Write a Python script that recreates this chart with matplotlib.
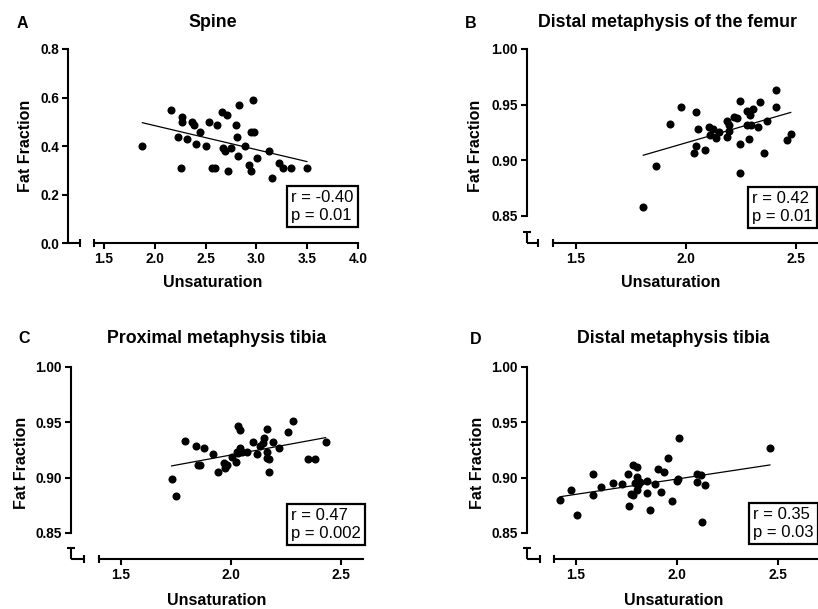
import numpy as np
import matplotlib.pyplot as plt
from matplotlib.transforms import blended_transform_factory

plt.rcParams['font.family'] = ['Liberation Sans', 'DejaVu Sans']

W, H = 818, 609  # figure size in pixels

# A - Spine
spine_x = [1.879, 2.157, 2.268, 2.268, 2.255, 2.232, 2.320, 2.366, 2.382, 2.441,
           2.402, 2.500, 2.539, 2.611, 2.565, 2.598, 2.663, 2.709, 2.826, 2.971,
           2.800, 2.807, 2.670, 2.696, 2.752, 2.817, 2.719, 2.889, 2.948, 2.980,
           2.925, 2.948, 3.003, 3.121, 3.150, 3.225, 3.265, 3.336, 3.497]
spine_y = [0.400, 0.548, 0.518, 0.498, 0.309, 0.438, 0.429, 0.500, 0.487, 0.459,
           0.407, 0.399, 0.500, 0.487, 0.309, 0.309, 0.541, 0.528, 0.569, 0.590,
           0.487, 0.438, 0.390, 0.379, 0.390, 0.359, 0.297, 0.400, 0.459, 0.459,
           0.322, 0.297, 0.349, 0.379, 0.267, 0.329, 0.311, 0.309, 0.309]

# B - Distal metaphysis of the femur
femur_x = [1.806, 1.865, 1.926, 1.976, 2.045, 2.056, 2.045, 2.036, 2.086, 2.106,
           2.124, 2.109, 2.136, 2.152, 2.185, 2.195, 2.185, 2.197, 2.218, 2.230,
           2.245, 2.245, 2.247, 2.276, 2.291, 2.306, 2.276, 2.294, 2.288, 2.326,
           2.336, 2.356, 2.367, 2.408, 2.408, 2.458, 2.476]
femur_y = [0.858, 0.895, 0.933, 0.948, 0.943, 0.928, 0.913, 0.907, 0.909, 0.930,
           0.928, 0.923, 0.920, 0.925, 0.935, 0.932, 0.921, 0.926, 0.939, 0.938,
           0.953, 0.915, 0.889, 0.944, 0.941, 0.946, 0.932, 0.932, 0.919, 0.930,
           0.952, 0.907, 0.935, 0.963, 0.948, 0.918, 0.924]

# C - Proximal metaphysis tibia
prox_x = [1.730, 1.750, 1.791, 1.841, 1.879, 1.849, 1.859, 1.920, 1.940, 1.970,
          1.980, 1.973, 2.003, 2.023, 2.030, 2.041, 2.041, 2.033, 2.049, 2.026,
          2.074, 2.101, 2.120, 2.132, 2.147, 2.162, 2.150, 2.162, 2.165, 2.174,
          2.171, 2.192, 2.220, 2.261, 2.280, 2.351, 2.382, 2.430]
prox_y = [0.899, 0.883, 0.933, 0.929, 0.927, 0.911, 0.911, 0.921, 0.905, 0.913,
          0.911, 0.909, 0.919, 0.914, 0.947, 0.943, 0.927, 0.922, 0.923, 0.923,
          0.923, 0.932, 0.921, 0.929, 0.931, 0.944, 0.936, 0.923, 0.918, 0.917,
          0.905, 0.932, 0.927, 0.941, 0.951, 0.917, 0.917, 0.932]

# D - Distal metaphysis tibia
dist_x = [1.421, 1.474, 1.503, 1.583, 1.583, 1.624, 1.685, 1.726, 1.756, 1.764,
          1.784, 1.804, 1.771, 1.800, 1.792, 1.809, 1.817, 1.800, 1.784, 1.853,
          1.850, 1.866, 1.891, 1.908, 1.936, 1.919, 1.957, 1.977, 1.998, 2.006,
          2.010, 2.097, 2.117, 2.097, 2.139, 2.122, 2.460]
dist_y = [0.880, 0.889, 0.866, 0.903, 0.884, 0.892, 0.895, 0.894, 0.903, 0.874,
          0.911, 0.910, 0.885, 0.901, 0.895, 0.893, 0.896, 0.889, 0.884, 0.897,
          0.886, 0.871, 0.894, 0.908, 0.905, 0.887, 0.918, 0.879, 0.897, 0.899,
          0.936, 0.903, 0.902, 0.896, 0.893, 0.860, 0.927]

titles = ['Spine', 'Distal metaphysis of the femur',
          'Proximal metaphysis tibia', 'Distal metaphysis tibia']
letters = ['A', 'B', 'C', 'D']
stats = ['r = -0.40\np = 0.01', 'r = 0.42\np = 0.01',
         'r = 0.47\np = 0.002', 'r = 0.35\np = 0.03']
xticks = [[1.5, 2.0, 2.5, 3.0, 3.5, 4.0], [1.5, 2.0, 2.5], [1.5, 2.0, 2.5], [1.5, 2.0, 2.5]]
xticklabels = [['1.5', '2.0', '2.5', '3.0', '3.5', '4.0'], ['1.5', '2.0', '2.5'],
               ['1.5', '2.0', '2.5'], ['1.5', '2.0', '2.5']]
yticks_a = [0.0, 0.2, 0.4, 0.6, 0.8]
yticklabels_a = ['0.0', '0.2', '0.4', '0.6', '0.8']
yticks_b = [0.85, 0.90, 0.95, 1.00]
yticklabels_b = ['0.85', '0.90', '0.95', '1.00']

datasets = [(spine_x, spine_y), (femur_x, femur_y), (prox_x, prox_y), (dist_x, dist_y)]

# layout in pixels: left, top, bottom, xlim, ylim, x-break (stub end, segment start),
# y-break (top of lower stub or None), stats box (left, top)
panels = [
    dict(left=68, top=49, bottom=243, xlim=(1.147, 4.0), ylim=(0.0, 0.8),
         xbrk=(1.265, 1.402), ybrk=None, box=(287, 186),
         title=(213, 27), letter=(17, 28), ylab=(26, 146), xlab=(213, 287)),
    dict(left=527, top=49, bottom=243, xlim=(1.2773, 2.62), ylim=(0.8257, 1.0),
         xbrk=(1.327, 1.395), ybrk=0.836, box=(748, 187),
         title=(667, 27), letter=(465, 28), ylab=(476, 146), xlab=(671, 287)),
    dict(left=71, top=367, bottom=559, xlim=(1.2727, 2.6), ylim=(0.8265, 1.0),
         xbrk=(1.332, 1.40), ybrk=0.8365, box=(287, 504),
         title=(217, 343), letter=(18, 343), ylab=(22, 463), xlab=(217, 605)),
    dict(left=527, top=367, bottom=559, xlim=(1.2574, 2.72), ylim=(0.8265, 1.0),
         xbrk=(1.322, 1.391), ybrk=0.8365, box=(749, 503),
         title=(673, 343), letter=(470, 344), ylab=(477, 463), xlab=(674, 605)),
]
px_per_unit = [101.65, 220, 220, 202]

fig = plt.figure(figsize=(W / 100, H / 100), dpi=100)
LW = 1.5
cap = 4.0  # half-length of break caps, px

for i, p in enumerate(panels):
    width = (p['xlim'][1] - p['xlim'][0]) * px_per_unit[i]
    height = p['bottom'] - p['top']
    ax = fig.add_axes([p['left'] / W, 1 - p['bottom'] / H, width / W, height / H])
    x, y = datasets[i]
    ax.plot(x, y, 'o', color='black', markersize=5.8, markeredgewidth=0, clip_on=False)

    # linear regression line over the data range
    k, b = np.polyfit(x, y, 1)
    xs = np.array([min(x), max(x)])
    ax.plot(xs, k * xs + b, color='black', lw=0.9)

    ax.set_xlim(*p['xlim'])
    ax.set_ylim(*p['ylim'])
    ax.set_xticks(xticks[i])
    ax.set_xticklabels(xticklabels[i])
    if i == 0:
        ax.set_yticks(yticks_a)
        ax.set_yticklabels(yticklabels_a)
    else:
        ax.set_yticks(yticks_b)
        ax.set_yticklabels(yticklabels_b)
    ax.tick_params(direction='out', length=4, width=LW, labelsize=9.8, pad=2.5)
    for lab in ax.get_xticklabels() + ax.get_yticklabels():
        lab.set_fontweight('bold')

    for s in ['top', 'right']:
        ax.spines[s].set_visible(False)
    ax.spines['left'].set_linewidth(LW)
    ax.spines['bottom'].set_linewidth(LW)
    ax.spines['bottom'].set_bounds(p['xbrk'][1], p['xlim'][1])
    if p['ybrk'] is not None:
        ax.spines['left'].set_bounds(0.85, p['ylim'][1])

    x0, y0 = p['xlim'][0], p['ylim'][0]
    bx = blended_transform_factory(ax.transData, ax.transAxes)
    by = blended_transform_factory(ax.transAxes, ax.transData)
    hx = cap / height
    hy = cap / width
    kw = dict(color='black', lw=LW, clip_on=False, solid_capstyle='butt')
    # short x stub with its end cap, and the cap at the start of the main segment
    ax.plot([x0, p['xbrk'][0]], [y0, y0], **kw)
    ax.plot([p['xbrk'][0]] * 2, [-hx, hx], transform=bx, **kw)
    ax.plot([p['xbrk'][1]] * 2, [-hx, hx], transform=bx, **kw)
    if p['ybrk'] is not None:
        ax.plot([x0, x0], [y0, p['ybrk']], **kw)
        ax.plot([-hy, hy], [p['ybrk']] * 2, transform=by, **kw)

    # stats box
    bl, bt = p['box']
    ax.text((bl + 4.2 - p['left']) / width, (p['bottom'] - bt - 4.2) / height, stats[i],
            transform=ax.transAxes, ha='left', va='top', fontsize=12, linespacing=1.2,
            bbox=dict(boxstyle='square,pad=0.25', fc='white', ec='black', lw=1.6))

    fig.text(p['title'][0] / W, 1 - p['title'][1] / H, titles[i], ha='center',
             va='baseline', fontsize=12.8, fontweight='bold')
    fig.text(p['letter'][0] / W, 1 - p['letter'][1] / H, letters[i], ha='left',
             va='baseline', fontsize=11.5, fontweight='bold')
    fig.text(p['xlab'][0] / W, 1 - p['xlab'][1] / H, 'Unsaturation', ha='center',
             va='baseline', fontsize=11.5, fontweight='bold')
    fig.text(p['ylab'][0] / W, 1 - p['ylab'][1] / H, 'Fat Fraction', ha='center',
             va='center', rotation=90, fontsize=11.5, fontweight='bold')

fig.savefig('out.png', dpi=100)
